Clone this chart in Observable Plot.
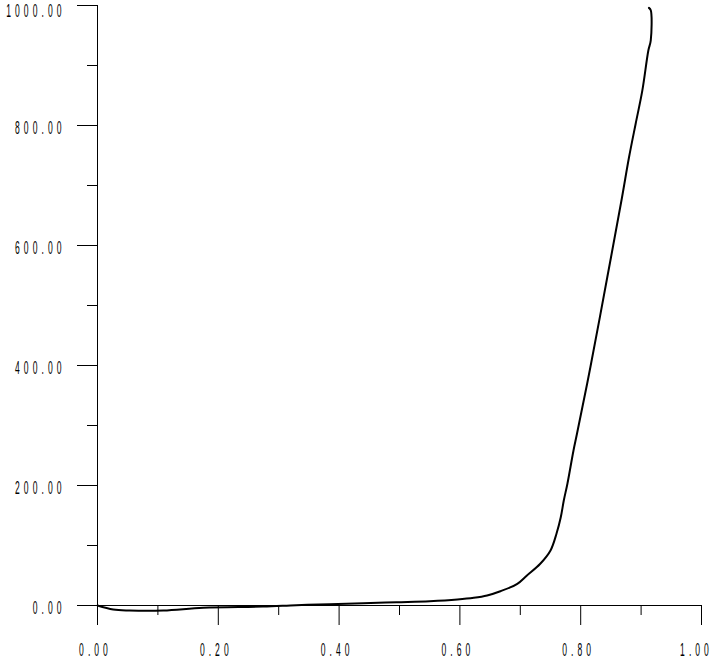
<!DOCTYPE html>
<html>
<head>
<meta charset="utf-8">
<script src="https://cdn.jsdelivr.net/npm/d3@7"></script>
<script src="https://cdn.jsdelivr.net/npm/@observablehq/plot@0.6"></script>
<style>
  html, body { margin: 0; padding: 0; background: #fff; }
  #chart svg { display: block; }
</style>
</head>
<body>
<div id="chart"></div>
<script>
// Curve
const xValues = [0, 0.026, 0.053, 0.109, 0.175, 0.274, 0.329, 0.384, 0.440, 0.495, 0.550, 0.596, 0.623, 0.645, 0.667, 0.695, 0.711, 0.733, 0.750, 0.760, 0.767, 0.772, 0.778, 0.788, 0.794, 0.816, 0.844, 0.868, 0.880, 0.891, 0.902, 0.912, 0.916, 0.916, 0.913];
const yValues = [0, -6.7, -8.3, -8.3, -3.8, -1.7, 0.5, 2.2, 3.8, 5.5, 7.2, 10, 12.8, 16.7, 23.8, 36, 50, 69.5, 91.7, 120, 147, 175, 203, 258, 287, 397, 547, 678, 747, 803, 858, 925, 942, 992, 996];

const xMajorTicks = [0, 0.2, 0.4, 0.6, 0.8, 1.0];
const xMinorTicks = [0.1, 0.3, 0.5, 0.7, 0.9];
const yMajorTicks = [0, 200, 400, 600, 800, 1000];
const yMinorTicks = [100, 300, 500, 700, 900];

const data = xValues.map((x, i) => ({x, y: yValues[i]}));
const fmt = d3.format(".2f");

const labelFont = {fontFamily: "Liberation Sans", fontSize: 19};

const chart = Plot.plot({
  width: 714,
  height: 661,
  marginLeft: 97,
  marginRight: 13,
  marginTop: 5,
  marginBottom: 56,
  style: {background: "#fff", color: "#000"},
  x: {domain: [0, 1], label: null},
  y: {domain: [0, 1000], label: null},
  marks: [
    Plot.axisX(xMajorTicks, {tickSize: 20, tickPadding: 17, tickFormat: fmt, stroke: "#000", fill: "#000", ...labelFont}),
    Plot.axisX(xMinorTicks, {tickSize: 10, tickFormat: () => "", stroke: "#000"}),
    Plot.axisY(yMajorTicks, {tickSize: 20, tickPadding: 12, tickFormat: fmt, stroke: "#000", fill: "#000", ...labelFont}),
    Plot.axisY(yMinorTicks, {tickSize: 10, tickFormat: () => "", stroke: "#000"}),
    Plot.ruleY([0], {stroke: "#000"}),
    Plot.ruleX([0], {stroke: "#000"}),
    Plot.line(data, {x: "x", y: "y", stroke: "#000", strokeWidth: 2, curve: "catmull-rom"})
  ]
});

// Narrow, letter-spaced plotter-style tick labels
chart.querySelectorAll('g[aria-label$="tick label"] text').forEach(t => {
  t.style.letterSpacing = "9px";
  let tr = t.getAttribute("transform");
  if (!tr) {
    const x = t.getAttribute("x") || 0, y = t.getAttribute("y") || 0;
    tr = `translate(${x},${y})`;
    t.removeAttribute("x");
  }
  const isY = t.parentNode.getAttribute("aria-label").startsWith("y");
  const sx = isY ? 0 : (t.textContent === "1.00" ? -5 : -2);
  const sy = isY ? (t.textContent === "1000.00" ? 5 : 2) : 0;
  t.setAttribute("transform", `${tr} translate(${sx},${sy}) scale(0.45,1)`);
});

document.getElementById("chart").appendChild(chart);
</script>
</body>
</html>
